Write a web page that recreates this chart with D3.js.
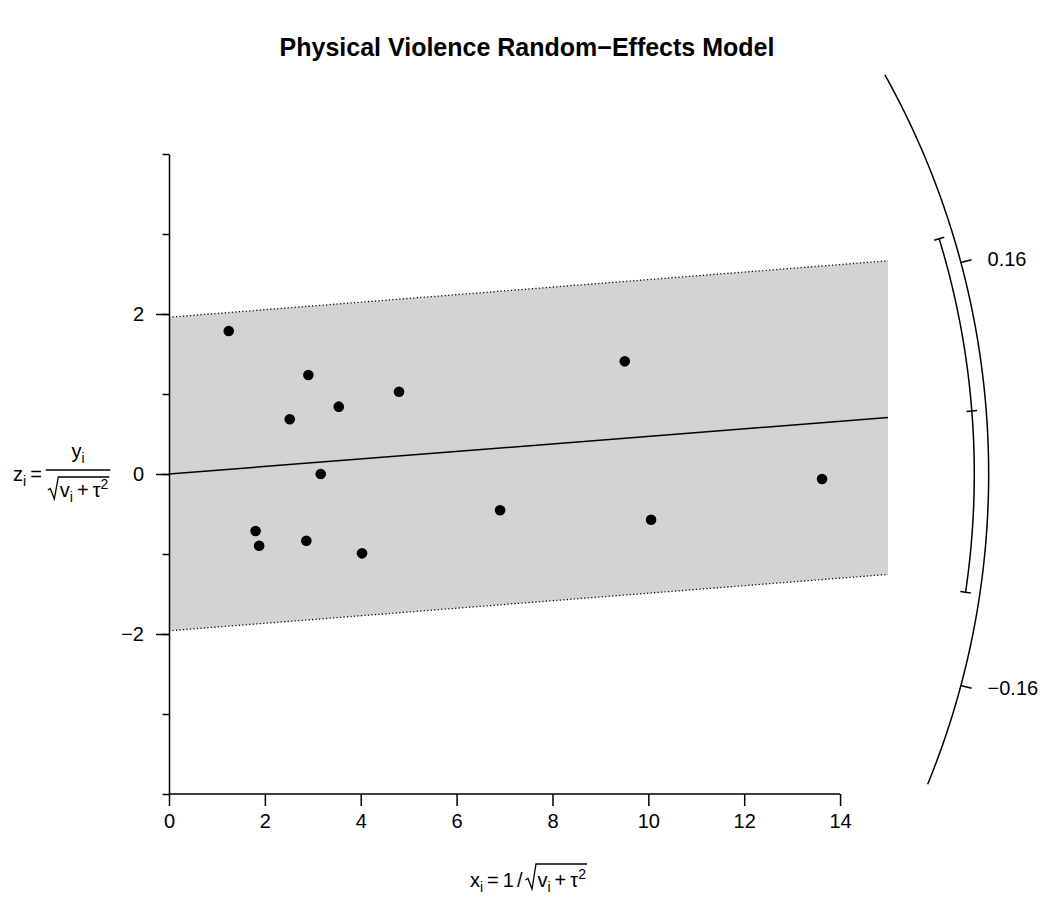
<!DOCTYPE html>
<html><head><meta charset="utf-8">
<script src="https://cdn.jsdelivr.net/npm/d3@7"></script>
<style>
body{margin:0;background:#fff}
svg{display:block}
text{font-family:"Liberation Sans",Arial,Helvetica,sans-serif;fill:#000}
</style>
</head><body>
<svg id="chart" width="1053" height="898"></svg>
<script>
// Radial (Galbraith) plot data: precision x_i and standardized effect z_i per study
const xi = [1.246, 1.806, 1.881, 2.519, 2.907, 2.865, 3.165, 3.541, 4.027, 4.799, 6.907, 9.508, 10.057, 13.624];
const zi = [1.788, -0.713, -0.896, 0.684, 1.238, -0.834, 0.000, 0.842, -0.992, 1.029, -0.454, 1.408, -0.571, -0.063];

// pooled estimate and its confidence bounds (effect-size scale)
const estimate = 0.047;
const ciBounds = [-0.089, 0.183];
const zCrit = 1.96;

// axes
const xTicks = [0, 2, 4, 6, 8, 10, 12, 14];
const yMinorTicks = [-4, -3, -2, -1, 0, 1, 2, 3, 4];
const yMajorTicks = [-2, 0, 2];
const arcTicks = [-0.16, 0.16];
const arcTickLabels = ["\u22120.16", "0.16"];
const arcEnds = [-0.245, 0.334];
const xAxisMax = 15;
const ciRadius = 16.8, axisRadius = 17.1;

const title = "Physical Violence Random\u2212Effects Model";

const svg = d3.select("#chart");
const FS = 20;

const x = d3.scaleLinear().domain([0, xAxisMax]).range([169, 888]);
const y = d3.scaleLinear().domain([-4, 4]).range([794, 154]);

// shaded region between the +/- zCrit bounds
const band = [
  [0, zCrit], [xAxisMax, zCrit + estimate * xAxisMax],
  [xAxisMax, -zCrit + estimate * xAxisMax], [0, -zCrit]
];
svg.append("path")
  .attr("d", d3.line().x(d => x(d[0])).y(d => y(d[1]))(band) + "Z")
  .attr("fill", "#d3d3d3");

// dotted bound lines
[zCrit, -zCrit].forEach(c => {
  svg.append("line")
    .attr("x1", x(0)).attr("y1", y(c))
    .attr("x2", x(xAxisMax)).attr("y2", y(c + estimate * xAxisMax))
    .attr("stroke", "#000").attr("stroke-width", 1.3)
    .attr("stroke-dasharray", "1.2,2.3");
});

// regression line through the origin with slope = estimate
svg.append("line")
  .attr("x1", x(0)).attr("y1", y(0))
  .attr("x2", x(xAxisMax)).attr("y2", y(estimate * xAxisMax))
  .attr("stroke", "#000").attr("stroke-width", 1.5);

// points
svg.append("g").selectAll("circle")
  .data(xi.map((v, i) => [v, zi[i]]))
  .join("circle")
  .attr("cx", d => x(d[0])).attr("cy", d => y(d[1]))
  .attr("r", 5.3).attr("fill", "#000");

// x axis
const gx = svg.append("g").attr("transform", `translate(0,${y(-4)})`)
  .call(d3.axisBottom(x).tickValues(xTicks).tickSize(12).tickPadding(8).tickSizeOuter(0));
gx.select(".domain").remove();
gx.append("line").attr("x1", x(xTicks[0])).attr("x2", x(xTicks[xTicks.length - 1]))
  .attr("stroke", "#000").attr("stroke-width", 1.5);
gx.selectAll(".tick line").attr("stroke-width", 1.5);
gx.selectAll("text").attr("font-size", FS).attr("font-family", null);

// y axis: minor ticks then labelled ticks
const gyMinor = svg.append("g").attr("transform", `translate(${x(0)},0)`)
  .call(d3.axisLeft(y).tickValues(yMinorTicks).tickSize(6.5).tickFormat("").tickSizeOuter(0));
gyMinor.select(".domain").attr("stroke-width", 1.5);
gyMinor.selectAll(".tick line").attr("stroke-width", 1.5);
const gy = svg.append("g").attr("transform", `translate(${x(0)},0)`)
  .call(d3.axisLeft(y).tickValues(yMajorTicks).tickSize(13).tickPadding(12).tickSizeOuter(0));
gy.select(".domain").remove();
gy.selectAll(".tick line").attr("stroke-width", 1.5);
gy.selectAll("text").attr("font-size", FS).attr("font-family", null);

// point on an arc of given radius (x units) for a given effect size
function arcPoint(eff, len) {
  const dx = x(1) - x(0), dy = y(eff) - y(0);
  const n = Math.hypot(dx, dy);
  const R = len * (x(1) - x(0));
  return [x(0) + R * dx / n, y(0) + R * dy / n];
}
function arcPath(a, b, len) {
  const steps = d3.range(0, 201).map(k => a + (b - a) * k / 200);
  return d3.line()(steps.map(e => arcPoint(e, len)));
}

// effect-size axis arc
svg.append("path").attr("d", arcPath(arcEnds[0], arcEnds[1], axisRadius))
  .attr("fill", "none").attr("stroke", "#000").attr("stroke-width", 1.5);
arcTicks.forEach((t, i) => {
  const p0 = arcPoint(t, axisRadius), p1 = arcPoint(t, axisRadius + 0.23);
  svg.append("line").attr("x1", p0[0]).attr("y1", p0[1]).attr("x2", p1[0]).attr("y2", p1[1])
    .attr("stroke", "#000").attr("stroke-width", 1.5);
  svg.append("text").attr("x", p1[0] + 16).attr("y", p1[1]).attr("dy", "0.34em")
    .attr("font-size", FS).text(arcTickLabels[i]);
});

// confidence interval arc
svg.append("path").attr("d", arcPath(ciBounds[0], ciBounds[1], ciRadius))
  .attr("fill", "none").attr("stroke", "#000").attr("stroke-width", 1.5);
[ciBounds[0], estimate, ciBounds[1]].forEach(t => {
  const p0 = arcPoint(t, ciRadius - 0.11), p1 = arcPoint(t, ciRadius + 0.11);
  svg.append("line").attr("x1", p0[0]).attr("y1", p0[1]).attr("x2", p1[0]).attr("y2", p1[1])
    .attr("stroke", "#000").attr("stroke-width", 1.5);
});

// title
svg.append("text").attr("x", 527).attr("y", 56).attr("text-anchor", "middle")
  .attr("font-size", 25).attr("font-weight", "bold").text(title);

// math label helpers
function run(g, parts, size, x0, base) {
  let cx = x0;
  parts.forEach(p => {
    const small = p.sub || p.sup;
    const off = p.sub ? size * 0.27 : p.sup ? -size * 0.42 : 0;
    const t = g.append("text").attr("x", cx).attr("y", base + off)
      .attr("font-size", small ? size * 0.7 : size).text(p.t);
    cx += t.node().getComputedTextLength() + (p.gap || 0);
  });
  return cx - x0;
}
function radical(g, left, right, top, base) {
  g.append("path")
    .attr("d", `M${left - 12},${base - 7} L${left - 9.5},${base - 8.5} L${left - 5.5},${base + 2} L${left - 1.5},${top} L${right + 1},${top}`)
    .attr("fill", "none").attr("stroke", "#000").attr("stroke-width", 1.3);
}
const rootParts = [{t: "v"}, {t: "i", sub: true, gap: 4}, {t: "+", gap: 4}, {t: "\u03C4"}, {t: "2", sup: true}];

// y label: z_i = y_i / sqrt(v_i + tau^2)
const yl = svg.append("g");
let cx = 13;
cx += run(yl, [{t: "z"}, {t: "i", sub: true, gap: 4}, {t: "=", gap: 4}], FS, cx, 481);
const denomW = run(svg.append("g").attr("opacity", 0), rootParts, FS, 0, 0);
const barL = cx, barR = cx + denomW + 16;
yl.append("line").attr("x1", barL).attr("x2", barR).attr("y1", 470).attr("y2", 470)
  .attr("stroke", "#000").attr("stroke-width", 1.3);
const numW = run(svg.append("g").attr("opacity", 0), [{t: "y"}, {t: "i", sub: true}], FS, 0, 0);
run(yl, [{t: "y"}, {t: "i", sub: true}], FS, (barL + barR) / 2 - numW / 2, 458);
const dl = barL + 14;
run(yl, rootParts, FS, dl, 497);
radical(yl, dl, dl + denomW, 477, 497);

// x label: x_i = 1 / sqrt(v_i + tau^2)
const xl = svg.append("g");
const probe = svg.append("g").attr("opacity", 0);
const headParts = [{t: "x"}, {t: "i", sub: true, gap: 4}, {t: "=", gap: 4}, {t: "1", gap: 3}, {t: "/", gap: 3}];
const headW = run(probe, headParts, FS, 0, 0);
const totalW = headW + 12 + denomW;
let lx = 528 - totalW / 2;
const xb = 887;
lx += run(xl, headParts, FS, lx, xb);
lx += 12;
run(xl, rootParts, FS, lx, xb);
radical(xl, lx, lx + denomW, xb - 23, xb);
</script>
</body></html>
